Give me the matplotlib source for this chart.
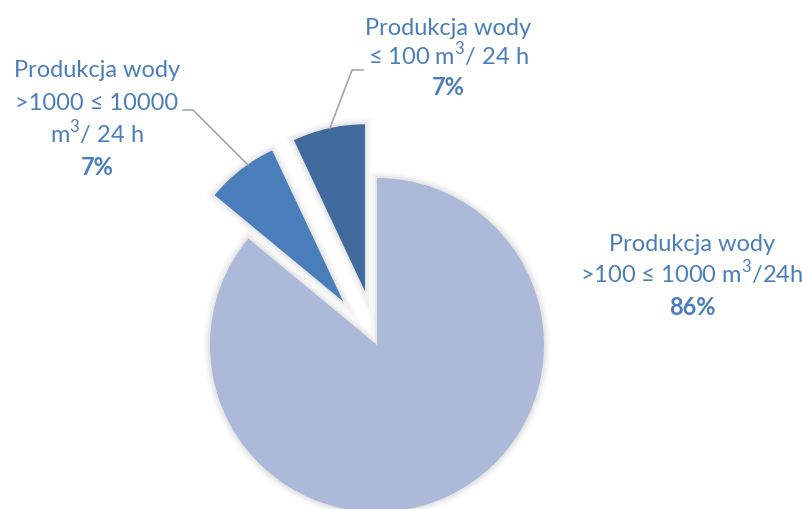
import matplotlib
matplotlib.use('Agg')
import matplotlib.pyplot as plt
import matplotlib.patheffects as pe

# data, clockwise from 12 o'clock
labels = [['Produkcja wody', r'>100 ≤ 1000 m$^\mathrm{3}$/24h'],
          ['Produkcja wody', '>1000 ≤ 10000', r'm$^\mathrm{3}$/ 24 h'],
          ['Produkcja wody', r'≤ 100 m$^\mathrm{3}$/ 24 h']]
shares = [86, 7, 7]
colors = ['#adb9d8', '#4a7ebb', '#3f6a9b']

plt.rcParams['font.family'] = ['Lato', 'DejaVu Sans']
plt.rcParams['mathtext.fontset'] = 'custom'
plt.rcParams['mathtext.rm'] = 'Lato'
txt = '#4a7ebb'

fig = plt.figure(figsize=(8.03, 5.09), dpi=100)
ax = fig.add_axes([0, 0, 1, 1])

r = 167
wedges, _ = ax.pie(shares, colors=colors, startangle=90, counterclock=False,
                   center=(377, 509 - 345), radius=r, explode=[0, 55, 55],
                   wedgeprops=dict(linewidth=0))
glow = [pe.Stroke(linewidth=9, foreground='k', alpha=0.025),
        pe.Stroke(linewidth=6, foreground='k', alpha=0.03),
        pe.Stroke(linewidth=3, foreground='k', alpha=0.04),
        pe.Normal()]
for w in wedges:
    w.set_path_effects(glow)
ax.set_xlim(0, 803)
ax.set_ylim(0, 509)
ax.set_aspect('auto')
ax.axis('off')

# label text: center x and first baseline (pixels from top), line step
pos = [(692, 251, 32), (97, 77, 32.7), (448, 35, 30)]
for (x, y0, step), lines, v in zip(pos, labels, shares):
    for i, line in enumerate(lines):
        ax.text(x, 509 - (y0 + i * step), line, ha='center', va='baseline',
                color=txt, fontsize=17)
    ax.text(x, 509 - (y0 + len(lines) * step), f'{v}%', ha='center',
            va='baseline', color=txt, fontsize=17, fontweight='bold')

# leader lines
grey = '#a6a6a6'
ax.plot([183, 193, 248], [509 - 110, 509 - 110, 509 - 165], color=grey, lw=1.2)
ax.plot([363, 352, 330], [509 - 70, 509 - 70, 509 - 128], color=grey, lw=1.2)

fig.savefig('out.png', dpi=100)
